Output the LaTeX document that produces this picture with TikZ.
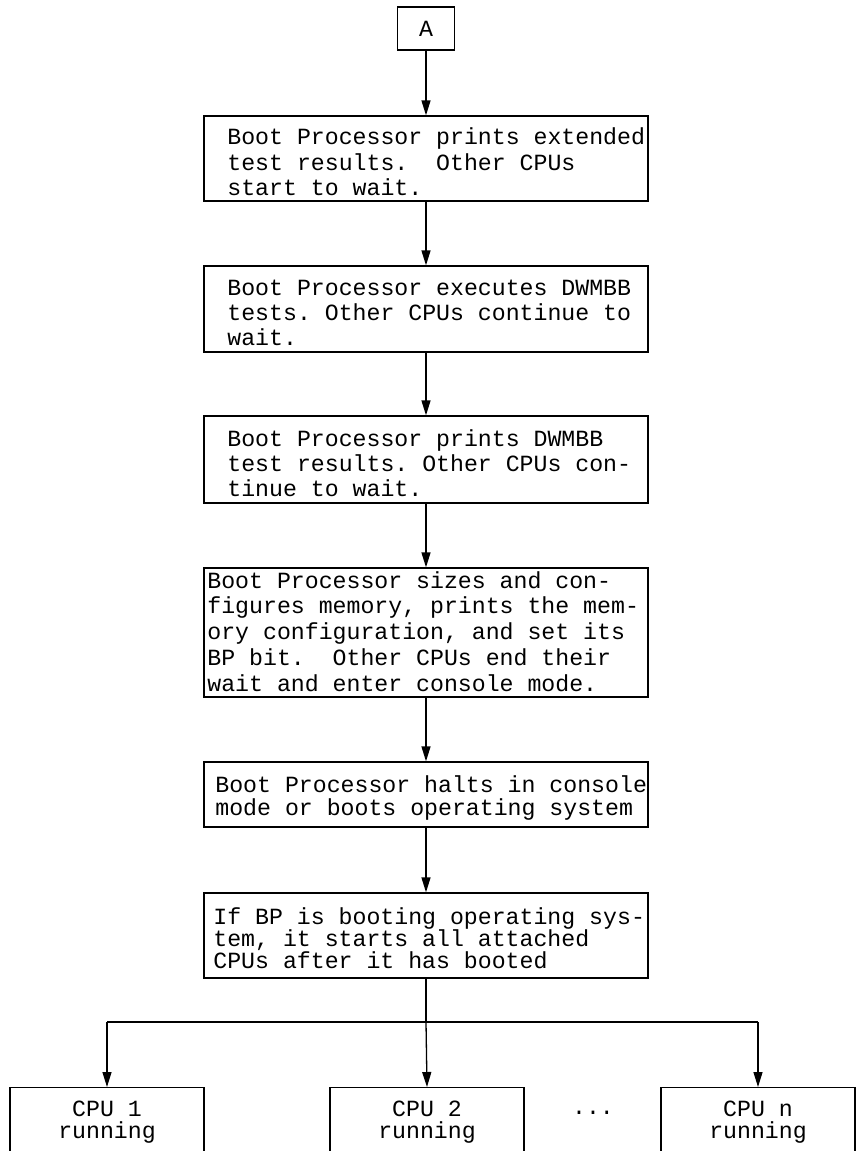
\documentclass[tikz,border=0pt]{standalone}
\usepackage{fontspec}
\setmainfont{Liberation Mono}
\frenchspacing
\usetikzlibrary{arrows.meta,calc}
\tikzset{
  box/.style={draw, line width=0.65pt, minimum width=222pt, inner sep=0pt},
  cpubox/.style={draw, line width=0.65pt, minimum width=97pt, minimum height=60pt, inner sep=0pt},
  txt/.style={inner sep=0pt, anchor=west, align=left},
  ctxt/.style={inner sep=0pt, align=center, font=\bfnt{11}},
  conn/.style={line width=0.65pt, -{Triangle[length=7.5pt,width=4.5pt]}},
  plain/.style={line width=0.65pt},
}
\newcommand{\bfnt}[1]{\frenchspacing\fontsize{11.6}{#1}\selectfont}
\begin{document}
\begin{tikzpicture}[x=0.5pt,y=-0.5pt]
\useasboundingbox (0,0) rectangle (864,1151);
\clip (0,0) rectangle (864,1151);
% boxes
\node[draw, line width=0.65pt, minimum width=28.5pt, minimum height=21.5pt, inner sep=0pt, font=\bfnt{13}] (a) at (426,28.5) {A};
\node[box, minimum height=42.5pt] (b1) at (426,158.5) {};
\node[box, minimum height=43pt] (b2) at (426,309) {};
\node[box, minimum height=43.5pt] (b3) at (426,459.5) {};
\node[box, minimum height=64.5pt] (b4) at (426,632.5) {};
\node[box, minimum height=32.5pt] (b5) at (426,794.5) {};
\node[box, minimum height=42.5pt] (b6) at (426,935.5) {};
% texts
\node[txt, font=\bfnt{12.75}] (t1) at (227,162) {Boot Processor prints extended\\test results.~ Other CPUs\\start to wait.};
\node[txt, font=\bfnt{12.5}] (t2) at (227,313) {Boot Processor executes DWMBB\\tests. Other CPUs continue to\\wait.};
\node[txt, font=\bfnt{12.5}] (t3) at (227,463) {Boot Processor prints DWMBB\\test results. Other CPUs con-\\tinue to wait.};
\node[txt, font=\bfnt{12.9}] (t4) at (207,631.5) {Boot Processor sizes and con-\\figures memory, prints the mem-\\ory configuration, and set its\\BP bit.~ Other CPUs end their\\wait and enter console mode.};
\node[txt, font=\bfnt{11.5}] (t5) at (215,798) {Boot Processor halts in console\\mode or boots operating system};
\node[txt, font=\bfnt{11}] (t6) at (213,938) {If BP is booting operating sys-\\tem, it starts all attached\\CPUs after it has booted};
% cpu boxes
\node[cpubox, anchor=north] (c1) at (107,1087) {};
\node[cpubox, anchor=north] (c2) at (427,1087) {};
\node[cpubox, anchor=north] (c3) at (758,1087) {};
\node[ctxt] (c1t) at (107,1122) {CPU 1\\running};
\node[ctxt] (c2t) at (427,1122) {CPU 2\\running};
\node[ctxt] (c3t) at (758,1122) {CPU n\\running};
\node[inner sep=0pt, font=\bfnt{11}] (dots) at (593,1113) {...};
% connectors
\draw[conn] (a) -- (b1);
\draw[conn] (b1) -- (b2);
\draw[conn] (b2) -- (b3);
\draw[conn] (b3) -- (b4);
\draw[conn] (b4) -- (b5);
\draw[conn] (b5) -- (b6);
\coordinate (split) at (426,1022);
\coordinate (sl) at (107,1022);
\coordinate (sr) at (758,1022);
\draw[plain] (b6.south) -- (split);
\draw[plain] (sl) -- (sr);
\draw[conn] (split) -- (c2.north);
\draw[conn] (sl) -- (c1.north);
\draw[conn] (sr) -- (c3.north);
\end{tikzpicture}
\end{document}
